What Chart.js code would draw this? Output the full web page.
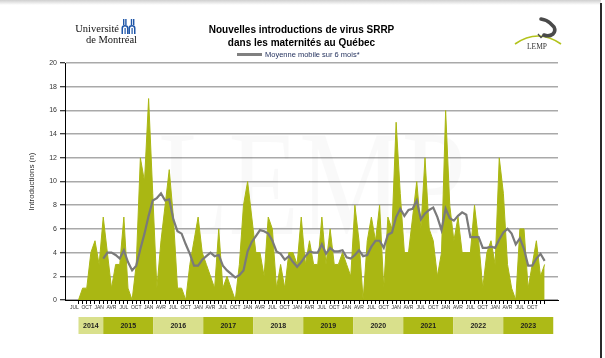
<!DOCTYPE html>
<html><head><meta charset="utf-8">
<script src="https://cdn.jsdelivr.net/npm/chart.js@4.4.0/dist/chart.umd.min.js"></script>
<style>
html,body{margin:0;padding:0;background:#fff;}
#wrap{position:relative;width:605px;height:358px;overflow:hidden;background:#fff;}
canvas{position:absolute;left:0;top:0;}
.topshade{position:absolute;left:0;top:0;width:601px;height:5px;background:linear-gradient(#cfcfcf,#fff);}
.rightline{position:absolute;left:600px;top:3px;width:2px;height:355px;background:#2b2b2b;}
.title{position:absolute;left:0;top:23px;width:603px;text-align:center;font:bold 10px/13px "Liberation Sans",Arial,sans-serif;color:#000;}
.legend{position:absolute;left:237px;top:50px;font:7.5px/10px "Liberation Sans",Arial,sans-serif;color:#1f2d5a;white-space:nowrap;}
.legend .sw{display:inline-block;width:25px;height:3px;background:#808080;vertical-align:middle;margin-right:3px;position:relative;top:-1px;}
.udem{position:absolute;left:71px;top:23px;font:10.5px/11px "Liberation Serif","Times New Roman",serif;color:#111;text-align:right;width:48px;white-space:nowrap;}
.udem .l2{position:relative;left:15px;}
.lemptxt{position:absolute;left:527px;top:42px;font:7.5px/9px "Liberation Serif",serif;color:#333;}
</style></head><body>
<div id="wrap">
<canvas id="c" width="605" height="358"></canvas>
<div class="topshade"></div>
<div class="rightline"></div>
<div class="title">Nouvelles introductions de virus SRRP<br>dans les maternités au Québec</div>
<div class="legend"><span class="sw"></span>Moyenne mobile sur 6 mois*</div>
<div class="udem">Université<br><span class="l2">de Montréal</span></div>
<svg style="position:absolute;left:121px;top:19px" width="16" height="16" viewBox="0 0 16 16">
  <g fill="#1f56a8">
    <rect x="2" y="0" width="1.4" height="6"/><rect x="4.2" y="0" width="1.4" height="6"/>
    <rect x="9.8" y="0" width="1.4" height="6"/><rect x="12" y="0" width="1.4" height="6"/>
    <path d="M0.5 15 V9 Q0.5 6 4 6 Q7.5 6 7.5 9 V15 H6 V9.5 Q6 7.6 4 7.6 Q2 7.6 2 9.5 V15 Z"/>
    <path d="M7.5 15 V9 Q7.5 6 11 6 Q14.5 6 14.5 9 V15 H13 V9.5 Q13 7.6 11 7.6 Q9 7.6 9 9.5 V15 Z"/>
    <rect x="3.5" y="9" width="1.2" height="6"/><rect x="10.5" y="9" width="1.2" height="6"/>
  </g>
</svg>
<svg style="position:absolute;left:512px;top:14px" width="52" height="32" viewBox="0 0 52 32">
  <path d="M3 30 Q26 14 49 30" stroke="#b3c31c" stroke-width="1.6" fill="none"/>
  <path d="M29 5 Q35 6 38 9 L42 13 Q44 17 41 20 Q37 23 32 21" stroke="#4a4a4a" stroke-width="3.6" fill="none" stroke-linecap="round" stroke-linejoin="round"/>
  <path d="M26 20 L29 23.5 L32 20.5" stroke="#4a4a4a" stroke-width="1.3" fill="none"/>
</svg>
<div class="lemptxt">LEMP</div>
</div>
<script>
const tickLabels = ['JUL','OCT','JAN','AVR'];
const years = [2014,2015,2016,2017,2018,2019,2020,2021,2022,2023];
// monthly new introductions, JUL 2014 -> DEC 2023
const introductions = [0,1,1,4,5,3,7,4,1,3, 3,7,1,0,3,12,10,17,9,1,
  5,8,11,7,1,1,0,3,5,7, 4,3,2,1,6,1,2,1,0,3, 8,10,7,4,4,2,7,6,1,3,
  1,4,4,3,7,3,5,3,3,7, 3,6,3,3,4,3,2,8,5,0, 5,7,5,8,1,7,6,15,9,4,
  4,7,10,6,12,6,5,2,4,16, 8,5,7,4,4,4,8,5,1,4, 5,3,12,9,3,1,0,6,6,1,
  3,5,2,3];
// 6-month moving average as drawn
const movingAverage = [null,null,null,null,null,null,
  3.5,4.0,4.0,3.8,3.5,4.2,3.2,2.5,2.9,4.3,
  5.6,7.1,8.4,8.6,9.0,8.4,8.5,6.8,5.8,5.6,
  4.7,3.9,2.9,2.9,3.4,3.7,4.0,3.7,3.8,2.9,
  2.5,2.2,1.9,2.1,2.5,4.1,4.9,5.4,5.9,5.8,
  5.6,5.0,4.1,3.9,3.4,3.7,3.2,2.8,3.2,3.7,
  4.1,4.0,4.0,4.7,3.9,4.4,4.1,4.1,4.2,3.6,
  3.5,3.8,4.2,3.7,3.8,4.5,5.0,5.0,4.4,5.5,
  5.7,7.0,7.7,7.1,7.6,7.7,8.4,6.8,7.3,7.6,
  7.8,7.0,5.9,7.7,6.9,6.7,7.1,7.4,7.2,5.3,
  5.3,5.3,4.4,4.4,4.5,4.4,5.1,5.7,6.0,5.6,
  4.7,5.2,4.3,2.9,2.9,3.5,3.9,3.3];

const areaData = introductions.map((v,i)=>({x:i,y:v}));
const maData = movingAverage.map((v,i)=>({x:i,y:v}));
const lastLabelIndex = introductions.length - 3;

const deco = {
  id:'deco',
  beforeDatasetsDraw(ch){
    const ctx = ch.ctx, a = ch.chartArea;
    ctx.save();
    ctx.beginPath(); ctx.rect(a.left,a.top,a.right-a.left,a.bottom-a.top); ctx.clip();
    ctx.translate(158, 234);
    ctx.scale(0.77, 1);
    ctx.font = '150px "Liberation Serif", serif';
    ctx.fillStyle = 'rgba(0,0,0,0.022)';
    ctx.textBaseline = 'alphabetic';
    ctx.fillText('LEMP', 0, 0);
    ctx.restore();
  },
  afterDraw(ch){
    const ctx = ch.ctx, xs = ch.scales.x;
    const top = 317, h = 17;
    const start = xs.getPixelForValue(0), jan = xs.getPixelForValue(6);
    const yearW = 50;
    ctx.save();
    years.forEach((yr,k)=>{
      const x1 = k===0 ? start : jan + (k-1)*yearW;
      const x2 = k===0 ? jan : jan + k*yearW;
      ctx.fillStyle = (k%2===0) ? '#d9e08c' : '#adba17';
      ctx.fillRect(x1, top, x2-x1, h);
      ctx.fillStyle = '#1e1e1e';
      ctx.font = 'bold 7px "Liberation Sans", Arial, sans-serif';
      ctx.textAlign = 'center'; ctx.textBaseline = 'middle';
      ctx.fillText(String(yr), (x1+x2)/2, top + h/2 + 0.5);
    });
    ctx.restore();
  }
};

new Chart(document.getElementById('c'), {
  data:{
    datasets:[
      {type:'line', label:'Moyenne mobile sur 6 mois*', data:maData, borderColor:'#7a7a7a', borderWidth:2.2,
       pointRadius:0, fill:false, tension:0, order:0, spanGaps:false},
      {type:'line', label:'Introductions', data:areaData, borderColor:'#aab713', backgroundColor:'#aab713',
       borderWidth:1, pointRadius:0, fill:'origin', tension:0, order:1}
    ]
  },
  options:{
    responsive:false, animation:false, devicePixelRatio:1,
    layout:{padding:{left:27, top:63, right:47, bottom:0}},
    plugins:{legend:{display:false}, tooltip:{enabled:false}, title:{display:false}},
    scales:{
      x:{type:'linear', min:-3.27, max:116.24,
        afterBuildTicks(s){ const t=[]; for(let v=-1; v<introductions.length; v++) t.push({value:v}); s.ticks=t; },
        ticks:{autoSkip:false, maxRotation:0, minRotation:0, padding:1, color:'#333',
          font:{size:5, family:'"Liberation Sans", Arial, sans-serif'},
          callback(v){ const k=v+1; return (k%3===0 && v<=lastLabelIndex) ? tickLabels[(k/3)%4] : ''; }},
        grid:{drawOnChartArea:false, drawTicks:true, tickLength:4, tickWidth:1,
          tickColor:(c)=> (c.tick && c.tick.value<0) ? 'rgba(0,0,0,0)' : '#000'},
        border:{color:'#000', width:1},
        afterFit(s){ s.height = 58; }
      },
      y:{min:0, max:20,
        ticks:{stepSize:2, padding:3, color:'#333', font:{size:7, family:'"Liberation Sans", Arial, sans-serif'}},
        grid:{color:'#a9a9a9', lineWidth:1.5, tickColor:'#000', tickLength:5, tickWidth:1},
        border:{color:'#000', width:1},
        title:{display:true, text:'Introductions (n)', color:'#333', padding:0,
          font:{size:8, family:'"Liberation Sans", Arial, sans-serif'}},
        afterFit(s){ s.width = 38; }
      }
    }
  },
  plugins:[deco]
});
</script>
</body></html>
